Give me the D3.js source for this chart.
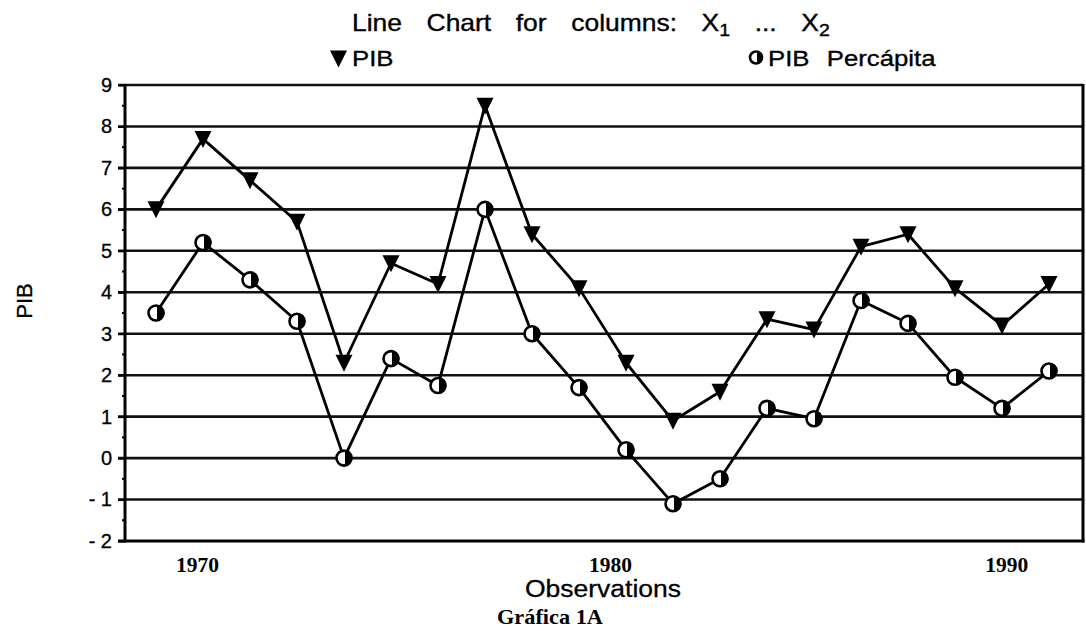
<!DOCTYPE html>
<html><head><meta charset="utf-8">
<script src="https://cdn.jsdelivr.net/npm/d3@7"></script>
<style>body{margin:0;background:#fff}svg{display:block}</style></head>
<body><svg id="c" width="1086" height="631"></svg>
<script>
const observations = [1,2,3,4,5,6,7,8,9,10,11,12,13,14,15,16,17,18,19,20];
const pib = [6.0,7.7,6.7,5.7,2.3,4.7,4.2,8.5,5.4,4.1,2.3,0.9,1.6,3.35,3.1,5.1,5.4,4.1,3.2,4.2];
const pibPercapita = [3.5,5.2,4.3,3.3,0.0,2.4,1.75,6.0,3.0,1.7,0.2,-1.1,-0.5,1.2,0.95,3.8,3.25,1.95,1.2,2.1];
const yTicks = [-2,-1,0,1,2,3,4,5,6,7,8,9];
const yTickLabels = ["- 2","- 1","0","1","2","3","4","5","6","7","8","9"];
const yMinorTicks = [-1.5,-0.5,0.5,1.5,2.5,3.5,4.5,5.5,6.5,7.5,8.5];
const xTickPositions = [1.87,10.66,19.09];
const xTickLabels = ["1970","1980","1990"];
const seriesNames = ["PIB","PIB Percápita"];

const svg = d3.select("#c");
const L = 125, R = 1083, T = 85, B = 541;
const x = d3.scaleLinear().domain([1,20]).range([156,1049]);
const y = d3.scaleLinear().domain([-2,9]).range([B,T]);
const sans = "'Liberation Sans', Arial, Helvetica, sans-serif";
const serif = "'Liberation Serif', 'Times New Roman', serif";

// gridlines
svg.append("g").selectAll("line").data(yTicks.filter(d=>d>-2)).join("line")
  .attr("x1",L-7).attr("x2",R).attr("y1",d=>y(d)).attr("y2",d=>y(d))
  .attr("stroke","#111").attr("stroke-width",2.6);

// y axis via d3
const yAxis = d3.axisLeft(y).tickValues(yTicks).tickSize(7).tickFormat((d,i)=>yTickLabels[i]).tickPadding(6);
const gy = svg.append("g").attr("transform",`translate(${L},0)`).call(yAxis);
gy.select(".domain").remove();
gy.selectAll(".tick line").attr("stroke","#000").attr("stroke-width",2);
gy.selectAll("text").attr("font-family",sans).attr("font-size",20).attr("fill","#000")
  .attr("stroke","#000").attr("stroke-width",0.3);
// minor ticks
svg.append("g").selectAll("line").data(yMinorTicks).join("line")
  .attr("x1",L-3).attr("x2",L).attr("y1",d=>y(d)).attr("y2",d=>y(d))
  .attr("stroke","#000").attr("stroke-width",2);

// frame
svg.append("line").attr("x1",L).attr("x2",L).attr("y1",T-1).attr("y2",B+1.5).attr("stroke","#000").attr("stroke-width",3);
svg.append("line").attr("x1",L-7).attr("x2",R+1.5).attr("y1",B).attr("y2",B).attr("stroke","#000").attr("stroke-width",3);
svg.append("line").attr("x1",R).attr("x2",R).attr("y1",T-1).attr("y2",B+1.5).attr("stroke","#000").attr("stroke-width",3);

// x tick labels
const xAxis = d3.axisBottom(x).tickValues(xTickPositions).tickSize(0).tickPadding(0).tickFormat((d,i)=>xTickLabels[i]);
const gx = svg.append("g").attr("transform",`translate(0,${B})`).call(xAxis);
gx.select(".domain").remove();
gx.selectAll("text").attr("font-family",serif).attr("font-weight","bold").attr("font-size",21)
  .attr("fill","#000").attr("dy",null).attr("y",31).attr("textLength",43).attr("lengthAdjust","spacingAndGlyphs");

// lines
const line = d3.line().x((d,i)=>x(observations[i])).y(d=>y(d));
[pib,pibPercapita].forEach(s=>{
  svg.append("path").datum(s).attr("d",line).attr("fill","none")
    .attr("stroke","#000").attr("stroke-width",2.8).attr("stroke-linejoin","round");
});

// markers
function tri(g,cx,cy){
  g.append("path").attr("d",`M${cx-8.5},${cy-8}L${cx+8.5},${cy-8}L${cx},${cy+9}Z`).attr("fill","#000");
}
function halfCircle(g,cx,cy,r){
  g.append("circle").attr("cx",cx).attr("cy",cy).attr("r",r).attr("fill","#fff").attr("stroke","#000").attr("stroke-width",2.6);
  g.append("path").attr("d",`M${cx+1},${cy-r}A${r},${r} 0 0 1 ${cx+1},${cy+r}Z`).attr("fill","#000");
}
const mg = svg.append("g");
pib.forEach((v,i)=>tri(mg,x(observations[i]),y(v)));
pibPercapita.forEach((v,i)=>halfCircle(mg,x(observations[i]),y(v),7.5));

// title
const tg = svg.append("g").attr("transform","translate(352,31) scale(1.15,1)");
const title = tg.append("text").attr("x",0).attr("y",0)
  .attr("font-family",sans).attr("font-size",23).attr("word-spacing",15).attr("fill","#000")
  .attr("stroke","#000").attr("stroke-width",0.35);
title.append("tspan").text("Line Chart for columns: X");
title.append("tspan").attr("font-size",17).attr("dy",5).text("1");
title.append("tspan").attr("dy",-5).text(" ... X");
title.append("tspan").attr("font-size",17).attr("dy",5).text("2");

// legend
tri(svg,338.5,58.5);
svg.append("g").attr("transform","translate(352,66) scale(1.12,1)").append("text")
  .attr("font-family",sans).attr("font-size",23).attr("stroke","#000").attr("stroke-width",0.35).text(seriesNames[0]);
halfCircle(svg,756,57.5,6);
svg.append("g").attr("transform","translate(768,66) scale(1.12,1)").append("text")
  .attr("font-family",sans).attr("font-size",23).attr("word-spacing",9)
  .attr("stroke","#000").attr("stroke-width",0.35).text(seriesNames[1]);

// axis titles
svg.append("text").attr("transform","translate(32,301) rotate(-90)").attr("text-anchor","middle")
  .attr("font-family",sans).attr("font-size",22).attr("stroke","#000").attr("stroke-width",0.3).text("PIB");
svg.append("text").attr("x",603).attr("y",597).attr("text-anchor","middle")
  .attr("font-family",sans).attr("font-size",23).attr("textLength",156).attr("lengthAdjust","spacingAndGlyphs")
  .attr("stroke","#000").attr("stroke-width",0.3).text("Observations");
svg.append("text").attr("x",497).attr("y",624).attr("font-family",serif).attr("font-weight","bold")
  .attr("font-size",21).attr("textLength",106).attr("lengthAdjust","spacingAndGlyphs").text("Gráfica 1A");
</script></body></html>
